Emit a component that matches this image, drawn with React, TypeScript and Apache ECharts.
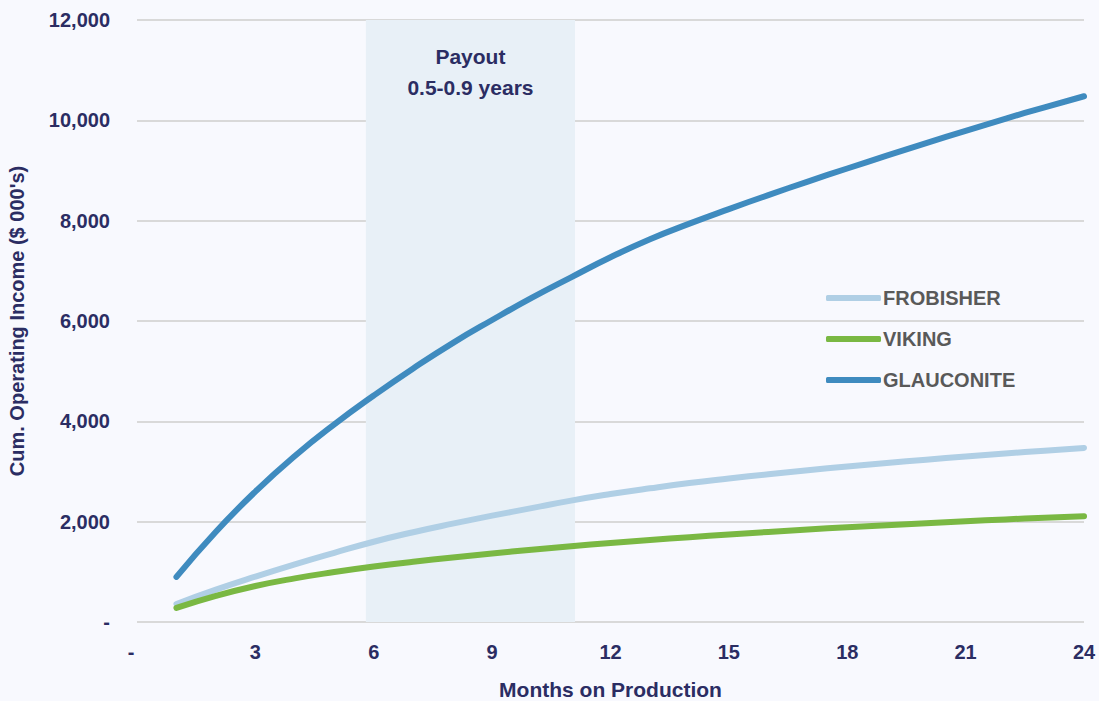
import React, { useEffect, useRef } from "react";
import * as echarts from "echarts";

const months = [1, 2, 3, 4, 5, 6, 7, 8, 9, 10, 11, 12, 13, 14, 15, 16, 17, 18, 19, 20, 21, 22, 23, 24];
const glauconite = [900, 1800, 2600, 3310, 3940, 4515, 5055, 5560, 6020, 6460, 6870, 7270, 7630, 7940, 8230, 8510, 8780, 9040, 9295, 9545, 9790, 10030, 10260, 10480];
const frobisher = [360, 645, 905, 1150, 1380, 1600, 1790, 1960, 2120, 2270, 2420, 2550, 2665, 2770, 2860, 2945, 3025, 3100, 3170, 3235, 3300, 3360, 3415, 3470];
const viking = [280, 520, 717, 870, 995, 1105, 1200, 1285, 1365, 1440, 1510, 1575, 1635, 1690, 1745, 1795, 1845, 1890, 1930, 1970, 2010, 2045, 2080, 2110];
const payoutStart = 5.8;
const payoutEnd = 11.1;
const seriesNames = ["FROBISHER", "VIKING", "GLAUCONITE"];

const FONT = "'Liberation Sans Narrow', 'Arial Narrow', 'Liberation Sans', sans-serif";
const NAVY = "#2b2d63";

export default function App() {
  const ref = useRef<HTMLDivElement>(null);
  useEffect(() => {
    if (!ref.current) return;
    const chart = echarts.init(ref.current, undefined, { renderer: "svg" });
    const mk = (arr: number[]) => months.map((m, i) => [m, arr[i]]);
    chart.setOption({
      animation: false,
      backgroundColor: "#f8f9fe",
      textStyle: { fontFamily: FONT },
      grid: { left: 137, right: 15, top: 20, bottom: 79, outerBoundsMode: "none", containLabel: false },
      legend: {
        orient: "vertical",
        left: 826,
        top: 288,
        padding: 0,
        itemWidth: 55,
        itemHeight: 6,
        itemGap: 21,
        icon: "roundRect",
        data: seriesNames,
        textStyle: { fontFamily: FONT, fontSize: 20, fontWeight: "bold", color: "#595959", padding: [0, 0, 0, -3] },
      },
      xAxis: {
        type: "value",
        min: 0,
        max: 24,
        interval: 3,
        name: "Months on Production",
        nameLocation: "middle",
        nameGap: 57,
        nameTextStyle: { fontFamily: FONT, fontSize: 21, fontWeight: "bold", color: NAVY },
        axisLine: { show: false },
        axisTick: { show: false },
        splitLine: { show: false },
        axisLabel: {
          margin: 20,
          fontFamily: FONT,
          fontSize: 20,
          fontWeight: "bold",
          color: NAVY,
          formatter: (v: number) => (v === 0 ? "{d|-}" : String(v)),
          rich: { d: { padding: [0, 12, 0, 0], fontFamily: FONT, fontSize: 20, fontWeight: "bold", color: NAVY } },
        },
      },
      yAxis: {
        type: "value",
        min: 0,
        max: 12000,
        interval: 2000,
        name: "Cum. Operating Income ($ 000's)",
        nameLocation: "middle",
        nameGap: 110,
        nameTextStyle: { fontFamily: FONT, fontSize: 20, fontWeight: "bold", color: NAVY },
        axisLine: { show: false },
        axisTick: { show: false },
        splitLine: { show: true, lineStyle: { color: "#d9d9d9", width: 2 } },
        axisLabel: {
          margin: 27,
          fontFamily: FONT,
          fontSize: 20,
          fontWeight: "bold",
          color: NAVY,
          formatter: (v: number) => (v === 0 ? "-" : v.toLocaleString("en-US")),
        },
      },
      series: [
        {
          name: "FROBISHER",
          type: "line",
          data: mk(frobisher),
          smooth: true,
          showSymbol: false,
          color: "#b0cfe5",
          lineStyle: { width: 6, cap: "round", join: "round" },
          markArea: {
            silent: true,
            itemStyle: { color: "#e8f0f7" },
            label: {
              show: true,
              position: "insideTop",
              distance: 21,
              formatter: "Payout\n0.5-0.9 years",
              fontFamily: FONT,
              fontSize: 21,
              fontWeight: "bold",
              color: NAVY,
              lineHeight: 31,
            },
            data: [[{ xAxis: payoutStart }, { xAxis: payoutEnd }]],
          },
          z: 3,
        },
        {
          name: "VIKING",
          type: "line",
          data: mk(viking),
          smooth: true,
          showSymbol: false,
          color: "#7ab843",
          lineStyle: { width: 6, cap: "round", join: "round" },
          z: 4,
        },
        {
          name: "GLAUCONITE",
          type: "line",
          data: mk(glauconite),
          smooth: true,
          showSymbol: false,
          color: "#3f8bbf",
          lineStyle: { width: 6, cap: "round", join: "round" },
          z: 5,
        },
      ],
    });
    return () => chart.dispose();
  }, []);
  return <div ref={ref} style={{ position: "fixed", left: 0, top: 0, width: 1099, height: 701 }} />;
}
